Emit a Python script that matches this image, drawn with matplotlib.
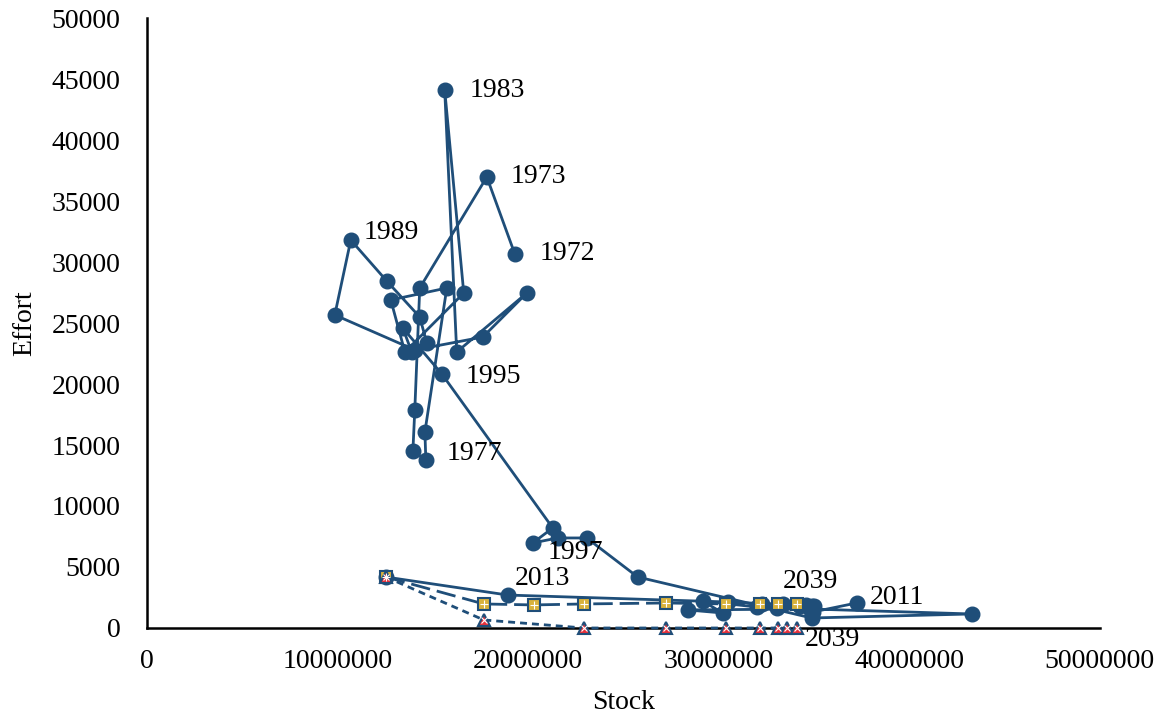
import matplotlib.pyplot as plt

plt.rcParams["font.family"] = ["Liberation Serif", "DejaVu Serif"]

BLUE = "#1F4E79"

# observed stock / effort, 1972-2011
hist_years = list(range(1972, 2012))
hist_stock = [
    19.31e6, 17.84e6, 14.32e6, 14.06e6, 13.96e6, 14.64e6, 14.59e6, 15.74e6,
    12.80e6, 13.54e6, 16.63e6, 15.63e6, 16.26e6, 19.94e6, 17.63e6, 14.06e6,
    9.86e6, 10.70e6, 12.59e6, 14.32e6, 14.69e6, 13.90e6, 13.43e6, 15.48e6,
    21.30e6, 20.25e6, 21.56e6, 23.08e6, 25.76e6, 34.89e6, 43.28e6, 34.78e6,
    28.38e6, 30.22e6, 29.17e6, 32.00e6, 33.05e6, 34.26e6, 34.94e6, 37.25e6,
]
hist_effort = [
    30660, 36970, 27870, 17870, 14510, 13770, 16070, 27870,
    26890, 22620, 27460, 44100, 22620, 27460, 23850, 22790,
    25660, 31800, 28440, 25490, 23360, 22620, 24590, 20820,
    8200, 6970, 7380, 7380, 4180, 820, 1150, 1560,
    1480, 1230, 2210, 1720, 1640, 1800, 1310, 2050,
]

# projections 2012-2039 under three effort scenarios
proj_years = [2012, 2013, 2014, 2015, 2020, 2025, 2030, 2035, 2039]
proj_a_stock = [12.54e6, 18.94e6, 30.50e6, 32.30e6, 33.40e6, 34.20e6, 34.60e6, 34.90e6, 35.00e6]
proj_a_effort = [4180, 2700, 2130, 2000, 1930, 1890, 1850, 1820, 1800]
proj_b_stock = [12.54e6, 17.68e6, 20.30e6, 22.93e6, 27.23e6, 30.38e6, 32.16e6, 33.11e6, 34.10e6]
proj_b_effort = [4180, 1970, 1890, 1970, 2050, 1970, 1970, 1970, 1970]
proj_c_stock = [12.54e6, 17.68e6, 22.93e6, 27.23e6, 30.38e6, 32.16e6, 33.11e6, 33.60e6, 34.10e6]
proj_c_effort = [4180, 660, 0, 0, 0, 0, 0, 0, 0]

fig = plt.figure(figsize=(11.66, 7.21), dpi=100)
ax = fig.add_axes([0.126, 0.129, 0.817, 0.846])

ax.plot(hist_stock, hist_effort, "-o", color=BLUE, lw=2, ms=10.5, zorder=3)
ax.plot(proj_a_stock, proj_a_effort, "-o", color=BLUE, lw=2, ms=10.5, zorder=3)
ax.plot(proj_b_stock, proj_b_effort, color=BLUE, lw=2, dashes=(7, 2.5), marker="s",
        ms=9, mfc="#D9B23C", mec=BLUE, mew=1.5, zorder=4)
ax.plot(proj_b_stock, proj_b_effort, ls="none", marker="+", ms=6, mec="white",
        mew=0.8, zorder=5)
ax.plot(proj_c_stock, proj_c_effort, color=BLUE, lw=2, dashes=(2.5, 1.8), marker="^",
        ms=9, mfc="#E8303A", mec=BLUE, mew=1.5, zorder=4, clip_on=False)
ax.plot(proj_c_stock, proj_c_effort, ls="none", marker="x", ms=4, mec="white",
        mew=0.8, zorder=5, clip_on=False)

# year labels: (year, series stock, series effort, pixel offset)
def label(year, xs, ys, years, dx, dy):
    i = years.index(year)
    ax.annotate(str(year), (xs[i], ys[i]), xytext=(dx, dy), textcoords="offset pixels",
                ha="left", va="center", fontsize=20, zorder=6)

for yr, dx, dy in [(1972, 25, 0), (1973, 24, 0), (1983, 25, 0), (1989, 13, 8),
                   (1995, 24, -2), (1977, 21, 7), (1997, 15, -10), (2011, 13, 5)]:
    label(yr, hist_stock, hist_effort, hist_years, dx, dy)
label(2013, proj_a_stock, proj_a_effort, proj_years, 7, 17)
label(2039, proj_b_stock, proj_b_effort, proj_years, -14, 22)
label(2039, proj_c_stock, proj_c_effort, proj_years, 8, -12)

ax.set_xlim(0, 50e6)
ax.set_ylim(0, 50000)
ax.set_xticks(range(0, 50000001, 10000000))
ax.set_yticks(range(0, 50001, 5000))
ax.ticklabel_format(style="plain")
ax.tick_params(length=0, labelsize=20)
ax.tick_params(axis="y", pad=19)
ax.tick_params(axis="x", pad=15)
for s in ["top", "right"]:
    ax.spines[s].set_visible(False)
for s in ["left", "bottom"]:
    ax.spines[s].set_linewidth(1.8)
ax.set_xlabel("Stock", fontsize=20, labelpad=12)
ax.set_ylabel("Effort", fontsize=20, labelpad=10)

fig.savefig("out.png", dpi=100)
